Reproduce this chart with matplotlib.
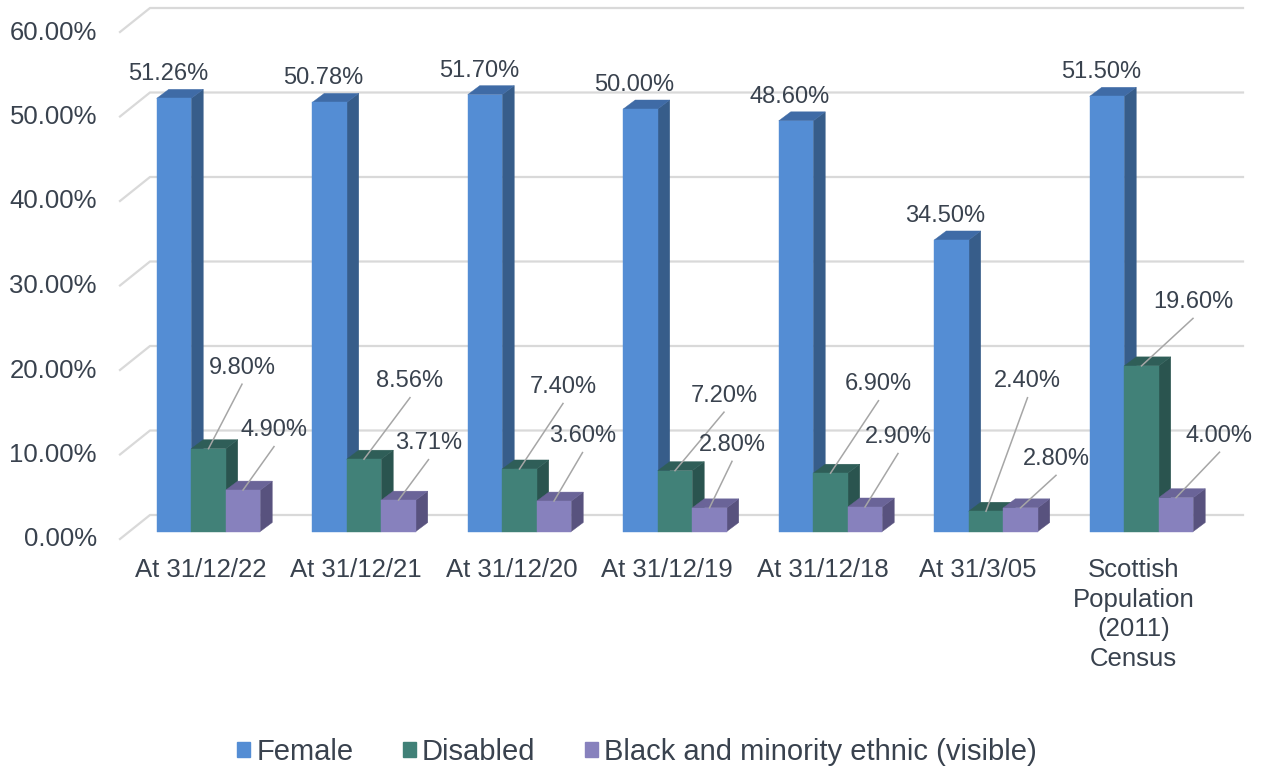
import matplotlib
matplotlib.use("Agg")
import matplotlib.pyplot as plt
from matplotlib.patches import Polygon, Patch

# ---------------- data ----------------
categories = ["At 31/12/22", "At 31/12/21", "At 31/12/20", "At 31/12/19",
              "At 31/12/18", "At 31/3/05", "Scottish\nPopulation\n(2011)\nCensus"]
female = [51.26, 50.78, 51.70, 50.00, 48.60, 34.50, 51.50]
disabled = [9.80, 8.56, 7.40, 7.20, 6.90, 2.40, 19.60]
bme = [4.90, 3.71, 3.60, 2.80, 2.90, 2.80, 4.00]
series_names = ["Female", "Disabled", "Black and minority ethnic (visible)"]
ytick_values = [0, 10, 20, 30, 40, 50, 60]

# ---------------- layout / style ----------------
W, H = 1263, 771
X0, CAT = 208.5, 155.5     # px: group-0 centre (bar plane), px per category
Y0, PCT = 531.5, 8.45      # px: baseline (bar plane), px per percent
BAR_W = 34.5 / CAT
DDX, DDY = 12 / CAT, 9 / PCT          # bar depth

TEXT = "#39424E"
GRID = "#D9D9D9"
colors = {
    "front": ["#548DD4", "#418178", "#8781BD"],
    "side": ["#375D8A", "#2A544F", "#58527E"],
    "top": ["#3F6BA6", "#2F5E58", "#6A6498"],
}
# label offsets (px) relative to bar top-front centre
dis_off = [(33.5, -81), (46, -78), (43.5, -82), (49, -75), (48, -89), (41.5, -130), (51.5, -64)]
bme_off = [(31, -60), (30, -57), (28.5, -65), (22.5, -63), (33, -70), (35.5, -49), (43.5, -62)]

plt.rcParams["font.family"] = ["Liberation Sans", "DejaVu Sans"]

fig = plt.figure(figsize=(W / 100, H / 100), dpi=100)
ax = fig.add_axes([0, 0, 1, 1])
ax.set_xlim(-X0 / CAT, (W - X0) / CAT)
ax.set_ylim((Y0 - H) / PCT, Y0 / PCT)
ax.axis("off")


def px2x(px):
    return (px - X0) / CAT


def px2y(py):
    return (Y0 - py) / PCT


# ---------------- back wall gridlines ----------------
front_left, back_left, back_right = px2x(120), px2x(150), px2x(1243)
front_dy = (Y0 - 539) / PCT
back_dy = (Y0 - 515) / PCT
for v in ytick_values:
    ax.plot([front_left, back_left, back_right],
            [v + front_dy, v + back_dy, v + back_dy],
            color=GRID, lw=1.6, zorder=1, solid_joinstyle="miter")
    ax.text(px2x(97), v + (Y0 - 539.5) / PCT, f"{v:.2f}%", ha="right", va="center",
            fontsize=18.5, color=TEXT)

# ---------------- bars ----------------
series = [female, disabled, bme]
z = 2
for i in range(len(categories)):
    for s, vals in enumerate(series):
        v = vals[i]
        x0 = i + (s - 1.5) * BAR_W
        x1 = x0 + BAR_W
        fc = colors["front"][s]
        ax.bar(x0, v, width=BAR_W, align="edge", color=fc, edgecolor=fc, lw=0.3, zorder=z + 0.2)
        side = Polygon([(x1, 0), (x1 + DDX, DDY), (x1 + DDX, v + DDY), (x1, v)],
                       closed=True, fc=colors["side"][s], ec=colors["side"][s], lw=0.3, zorder=z)
        top = Polygon([(x0, v), (x0 + DDX, v + DDY), (x1 + DDX, v + DDY), (x1, v)],
                      closed=True, fc=colors["top"][s], ec=colors["top"][s], lw=0.3, zorder=z + 0.1)
        ax.add_patch(side)
        ax.add_patch(top)
        z += 1

# ---------------- data labels ----------------
for i in range(len(categories)):
    # female: above the bar
    xc = i - BAR_W
    ax.text(xc - 6 / CAT, female[i] + 24 / PCT, f"{female[i]:.2f}%", ha="center", va="center",
            fontsize=17, color=TEXT, zorder=100)
    # disabled & bme: offset with leader line
    for s, vals, offs in ((1, disabled, dis_off), (2, bme, bme_off)):
        xc = i + (s - 1) * BAR_W
        v = vals[i]
        dx, dy = offs[i]
        lx, ly = xc + dx / CAT, v - dy / PCT
        ax.text(lx, ly, f"{v:.2f}%", ha="center", va="center", fontsize=17, color=TEXT, zorder=100)
        ax.plot([lx, xc], [ly - 16.5 / PCT, v], color="#A6A6A6", lw=1.1, zorder=99)

# ---------------- category labels ----------------
for i, cat in enumerate(categories):
    ax.text(i - 8 / CAT, px2y(558), cat, ha="center", va="top", fontsize=18.5,
            color=TEXT, linespacing=1.29)

# ---------------- legend ----------------
handles = [Patch(facecolor=c, edgecolor=c, label=n) for c, n in zip(colors["front"], series_names)]
leg = ax.legend(handles=handles, loc="center", bbox_to_anchor=(637 / W, 1 - 752 / H),
                bbox_transform=fig.transFigure, ncol=3, frameon=False, fontsize=21,
                handlelength=0.45, handleheight=0.45, handletextpad=0.2, columnspacing=1.7)
for t in leg.get_texts():
    t.set_color(TEXT)

fig.savefig("out.png", dpi=100)
